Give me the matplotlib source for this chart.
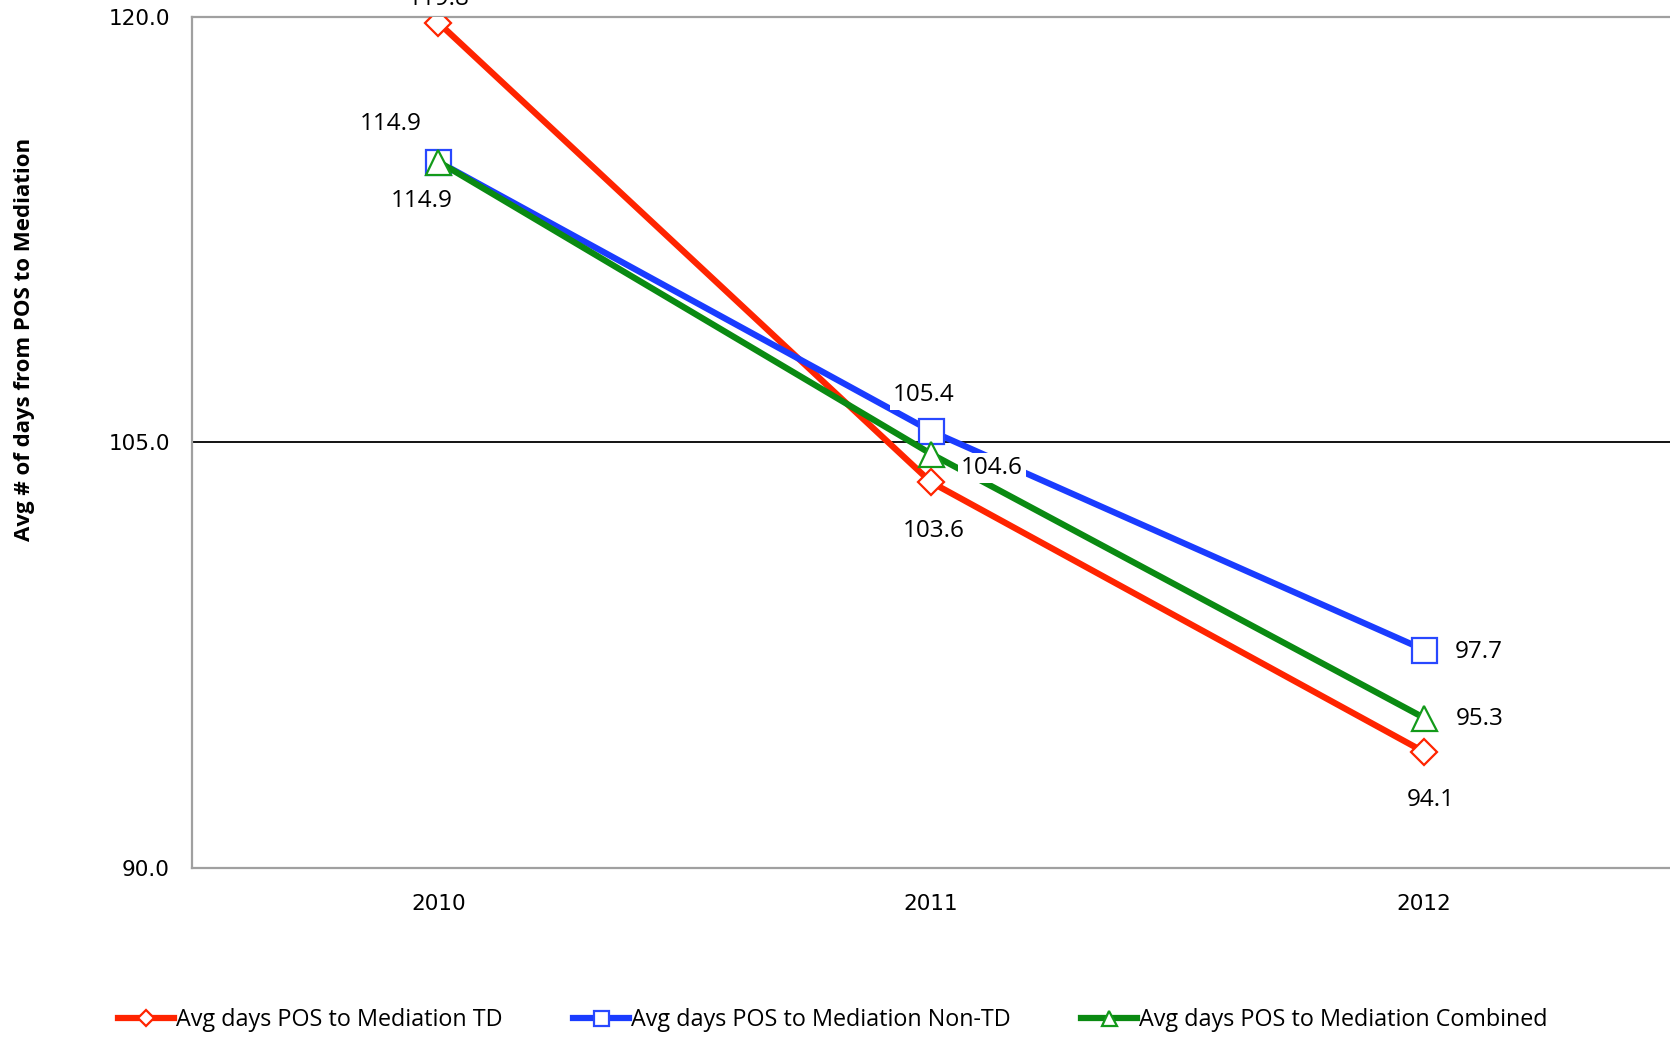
"""Average days from POS to mediation, 2010-2012."""

import matplotlib
matplotlib.use('Agg')
import matplotlib.pyplot as plt

years = ['2010', '2011', '2012']
td = [119.8, 103.6, 94.1]
non_td = [114.9, 105.4, 97.7]
combined = [114.9, 104.6, 95.3]

series_names = ['Avg days POS to Mediation TD',
                'Avg days POS to Mediation Non-TD',
                'Avg days POS to Mediation Combined']

# label offsets in points (x, y) for each series, per year
td_offsets = [(0, 17), (2, -35), (5, -35)]
non_td_offsets = [(-34, 27), (-5, 26), (40, -2)]
combined_offsets = [(-12, -28), (44, -10), (40, -1)]

fig = plt.figure(figsize=(16.7, 10.37), dpi=100)
ax = fig.add_axes([0.115, 0.163, 0.885, 0.8206])

x = range(len(years))
styles = [
    (td, '#ff2400', '#ff2400', 'D', 13, td_offsets),
    (non_td, '#1a3cff', '#2848ff', 's', 18, non_td_offsets),
    (combined, '#0a8a12', '#139a1a', '^', 18, combined_offsets),
]

handles = []
for (vals, c, ec, m, ms, offs), name in zip(styles, series_names):
    h, = ax.plot(x, vals, '-', color=c, linewidth=4.5, marker=m,
                 markersize=ms, markerfacecolor='white',
                 markeredgecolor=ec, markeredgewidth=1.6,
                 label=name, zorder=3)
    handles.append(h)
    for xi, v, (dx, dy) in zip(x, vals, offs):
        ax.annotate(f'{v:.1f}', (xi, v), xytext=(dx, dy),
                    textcoords='offset points', ha='center', va='center',
                    fontsize=17.5, family='Open Sans', zorder=4,
                    bbox=dict(boxstyle='square,pad=0.12', fc='white',
                              ec='none'),
                    annotation_clip=False)

ax.set_xlim(-0.5, 2.5)
ax.set_ylim(90, 120)
ax.set_yticks([90, 105, 120])
ax.set_yticklabels(['90.0', '105.0', '120.0'])
ax.set_xticks(list(x))
ax.set_xticklabels(years)
ax.tick_params(axis='y', length=0, pad=16, labelsize=15.5)
ax.tick_params(axis='x', length=0, pad=19, labelsize=15.5)

ax.yaxis.grid(True, color='black', linewidth=1.3)
ax.set_axisbelow(True)
for side in ['left', 'top', 'bottom']:
    ax.spines[side].set_color('#a0a0a0')
    ax.spines[side].set_linewidth(1.6)
ax.spines['right'].set_visible(False)

fig.text(0.0145, 0.673, 'Avg # of days from POS to Mediation',
         rotation=90, ha='center', va='center', fontsize=16,
         fontweight='bold', family='Open Sans')

fig.legend(handles=handles, loc='center left',
           bbox_to_anchor=(0.058, 0.016), ncol=3, frameon=False,
           handlelength=2.4, handletextpad=0.1, columnspacing=3.0,
           prop={'family': 'Open Sans', 'size': 16.8}, markerscale=0.6)

fig.savefig('out.png', dpi=100)
